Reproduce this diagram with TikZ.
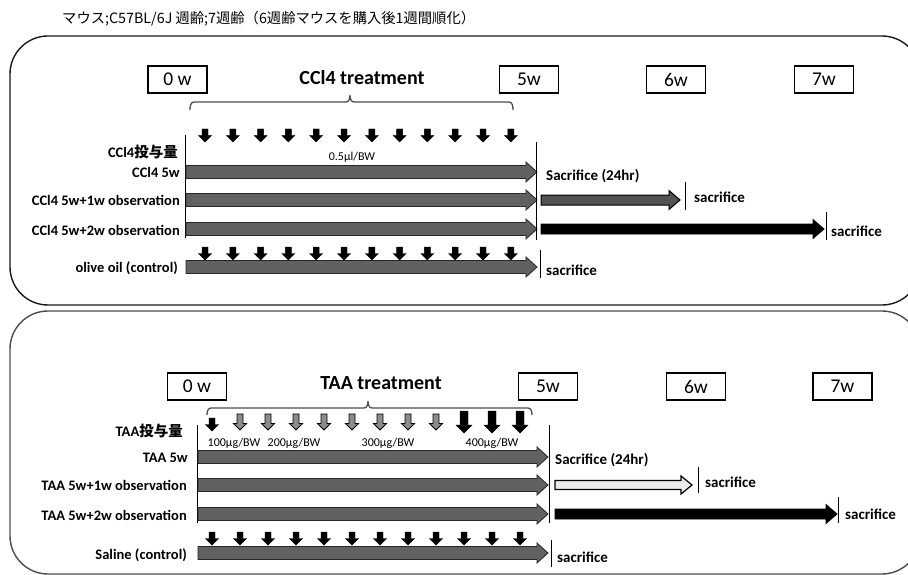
\documentclass[tikz,border=0pt]{standalone}
\usepackage{fontspec}
\setmainfont{Carlito}
\newfontfamily\jp{Noto Sans CJK JP}
\usetikzlibrary{calc}
\tikzset{
 wkbox/.style={draw=black, line width=1.1pt, minimum width=59pt, minimum height=27pt, inner sep=0pt, font=\fontsize{19.5}{22}\selectfont},
 rowlab/.style={anchor=east, font=\fontsize{14.5}{17}\selectfont\bfseries, inner sep=0pt},
 sacr/.style={anchor=west, font=\fontsize{15}{18}\selectfont\bfseries, inner sep=0pt},
 ttl/.style={font=\fontsize{20}{24}\selectfont\bfseries, inner sep=0pt},
 dose/.style={font=\fontsize{12}{14}\selectfont, inner sep=0pt},
 mainbar/.style={fill=black!62, draw=black!85, line width=0.8pt},
 greybar/.style={fill=black!68, draw=black, line width=1pt},
 blackbar/.style={fill=black, draw=black, line width=0.8pt},
 whitebar/.style={fill=black!8, draw=black, line width=1.2pt},
 tickline/.style={line width=1pt, draw=black},
 frame/.style={rounded corners=38pt, line width=1.4pt},
 bracket/.style={draw=black!70, line width=1.3pt},
 darr/.style={fill=black, draw=black, line width=0.4pt},
 garr/.style={fill=black!45, draw=black, line width=0.9pt},
}
% down arrow: x, ytop, ybottom, shaft half-width, head half-width
\newcommand{\dnarr}[6][darr]{%
 \path[#1] ({#2-#5},#3) -- ({#2+#5},#3) -- ({#2+#5},{#4-#6}) -- ({#2+#6},{#4-#6}) -- (#2,#4) -- ({#2-#6},{#4-#6}) -- ({#2-#5},{#4-#6}) -- cycle;}
% horizontal block arrow between two named coordinates
\newcommand{\blockarr}[5][mainbar]{%
 \path[#1] let \p1=(#2), \p2=(#3) in
  (\x1,{\y1+#4}) -- ({\x2-11pt},{\y1+#4}) -- ({\x2-11pt},{\y1+#5}) -- (\x2,\y1) -- ({\x2-11pt},{\y1-#5}) -- ({\x2-11pt},{\y1-#4}) -- (\x1,{\y1-#4}) -- cycle;}
\begin{document}
\begin{tikzpicture}[x=1pt,y=-1pt]
\useasboundingbox[fill=white] (0,0) rectangle (908,575);
\begin{scope}
\clip (0,0) rectangle (908,575);
\draw[frame, draw=black!90] (10,36) rectangle (920,305);
\draw[frame, draw=black!70] (10,311) rectangle (920,574);
\end{scope}

% title
\node[anchor=west, inner sep=0pt, font=\jp\fontsize{14.3}{16}\selectfont] (title) at (62,19) {マウス;C57BL/6J 週齢;7週齢（6週齢マウスを購入後1週間順化）};

% ================= top panel =================
\node[wkbox] (w0a) at (177.5,79.5) {0 w};
\node[wkbox] (w5a) at (529,79.5) {5w};
\node[wkbox] (w6a) at (676,79.5) {6w};
\node[wkbox] (w7a) at (824,79.5) {7w};
\node[ttl] (ccltitle) at (362,78) {CCl4 treatment};
\draw[bracket] (190,110) to[out=90,in=180] (194,102) -- (346,102) to[out=0,in=-90] (350,95) to[out=-90,in=180] (354,102) -- (509,102) to[out=0,in=90] (513,110);

\node[rowlab] (cdose) at (178,152) {CCl4{\jp\bfseries 投与量}};
\node[rowlab] (c1) at (180,172) {CCl4 5w};
\node[rowlab] (c2) at (180,200) {CCl4 5w+1w observation};
\node[rowlab] (c3) at (180,230) {CCl4 5w+2w observation};
\node[rowlab] (c4) at (178,268) {olive oil (control)};
\node[dose] (cdoseval) at (352,157) {0.5µl/BW};

\foreach \i in {0,...,11} {
  \pgfmathsetmacro{\xx}{205+27.8*\i}
  \dnarr{\xx}{129}{142}{3}{6.5}
  \dnarr{\xx}{247}{260}{3}{6.5}
}
\draw[tickline] (185,135) -- (185,238);

\coordinate (c1s) at (186,172); \coordinate (c1e) at (537,172);
\coordinate (c2s) at (186,200); \coordinate (c2e) at (537,200);
\coordinate (c3s) at (186,229); \coordinate (c3e) at (537,229);
\coordinate (c4s) at (186,267); \coordinate (c4e) at (537,267);
\blockarr{c1s}{c1e}{6.5pt}{10pt}
\blockarr{c2s}{c2e}{6.5pt}{10pt}
\blockarr{c3s}{c3e}{6.5pt}{10pt}
\blockarr{c4s}{c4e}{6.5pt}{10pt}

\draw[tickline] (536,142) -- (536,240);
\node[sacr] (cs1) at (546,176) {Sacrifice (24hr)};
\coordinate (c2p) at (541,200); \coordinate (c2q) at (680,200);
\blockarr[greybar]{c2p}{c2q}{5pt}{9.5pt}
\draw[tickline] (685,182) -- (685,210);
\node[sacr] (cs2) at (694,197) {sacrifice};
\coordinate (c3p) at (541,229); \coordinate (c3q) at (824,229);
\blockarr[blackbar]{c3p}{c3q}{5pt}{9.5pt}
\draw[tickline] (826,212) -- (826,240);
\node[sacr] (cs3) at (831,231) {sacrifice};
\draw[tickline] (540,250) -- (540,278);
\node[sacr] (cs4) at (546,270) {sacrifice};

% ================= bottom panel =================
\node[wkbox] (w0b) at (197,386.5) {0 w};
\node[wkbox] (w5b) at (548,386.5) {5w};
\node[wkbox] (w6b) at (696,386.5) {6w};
\node[wkbox] (w7b) at (842.5,386.5) {7w};
\node[ttl] (taatitle) at (381,383) {TAA treatment};
\draw[bracket] (207,415) to[out=90,in=180] (211,408) -- (364,408) to[out=0,in=-90] (368,401) to[out=-90,in=180] (372,408) -- (528,408) to[out=0,in=90] (532,415);

\node[rowlab] (tdose) at (183,431) {TAA{\jp\bfseries 投与量}};
\node[rowlab] (t1) at (188,458) {TAA 5w};
\node[rowlab] (t2) at (187,485) {TAA 5w+1w observation};
\node[rowlab] (t3) at (187,515) {TAA 5w+2w observation};
\node[rowlab] (t4) at (187,555) {Saline (control)};

\dnarr{212}{418}{431}{3}{6.5}
\foreach \i in {1,...,8} {
  \pgfmathsetmacro{\xx}{212+28*\i}
  \dnarr[garr]{\xx}{414}{430}{3}{6.5}
}
\foreach \i in {9,...,11} {
  \pgfmathsetmacro{\xx}{212+28*\i}
  \dnarr{\xx}{411}{433}{4}{8}
}
\foreach \i in {0,...,11} {
  \pgfmathsetmacro{\xx}{212+28*\i}
  \dnarr{\xx}{532}{545}{3}{6.5}
}
\node[dose] (d100) at (234,443) {100µg/BW};
\node[dose] (d200) at (294,443) {200µg/BW};
\node[dose] (d300) at (388,443) {300µg/BW};
\node[dose] (d400) at (492,443) {400µg/BW};
\draw[tickline] (197,425) -- (197,523);

\coordinate (t1s) at (198,457); \coordinate (t1e) at (548,457);
\coordinate (t2s) at (198,485); \coordinate (t2e) at (548,485);
\coordinate (t3s) at (198,514); \coordinate (t3e) at (548,514);
\coordinate (t4s) at (198,553); \coordinate (t4e) at (548,553);
\blockarr{t1s}{t1e}{6.5pt}{10pt}
\blockarr{t2s}{t2e}{6.5pt}{10pt}
\blockarr{t3s}{t3e}{6.5pt}{10pt}
\blockarr{t4s}{t4e}{6.5pt}{10pt}

\draw[tickline] (549,425) -- (549,523);
\node[sacr] (ts1) at (555,460) {Sacrifice (24hr)};
\coordinate (t2p) at (555,485); \coordinate (t2q) at (692,485);
\blockarr[whitebar]{t2p}{t2q}{4.5pt}{9pt}
\draw[tickline] (698,467) -- (698,493);
\node[sacr] (ts2) at (705,482) {sacrifice};
\coordinate (t3p) at (555,514); \coordinate (t3q) at (837,514);
\blockarr[blackbar]{t3p}{t3q}{5pt}{9.5pt}
\draw[tickline] (838,497) -- (838,523);
\node[sacr] (ts3) at (845,514) {sacrifice};
\draw[tickline] (551,540) -- (551,567);
\node[sacr] (ts4) at (557,557) {sacrifice};
\end{tikzpicture}
\end{document}
